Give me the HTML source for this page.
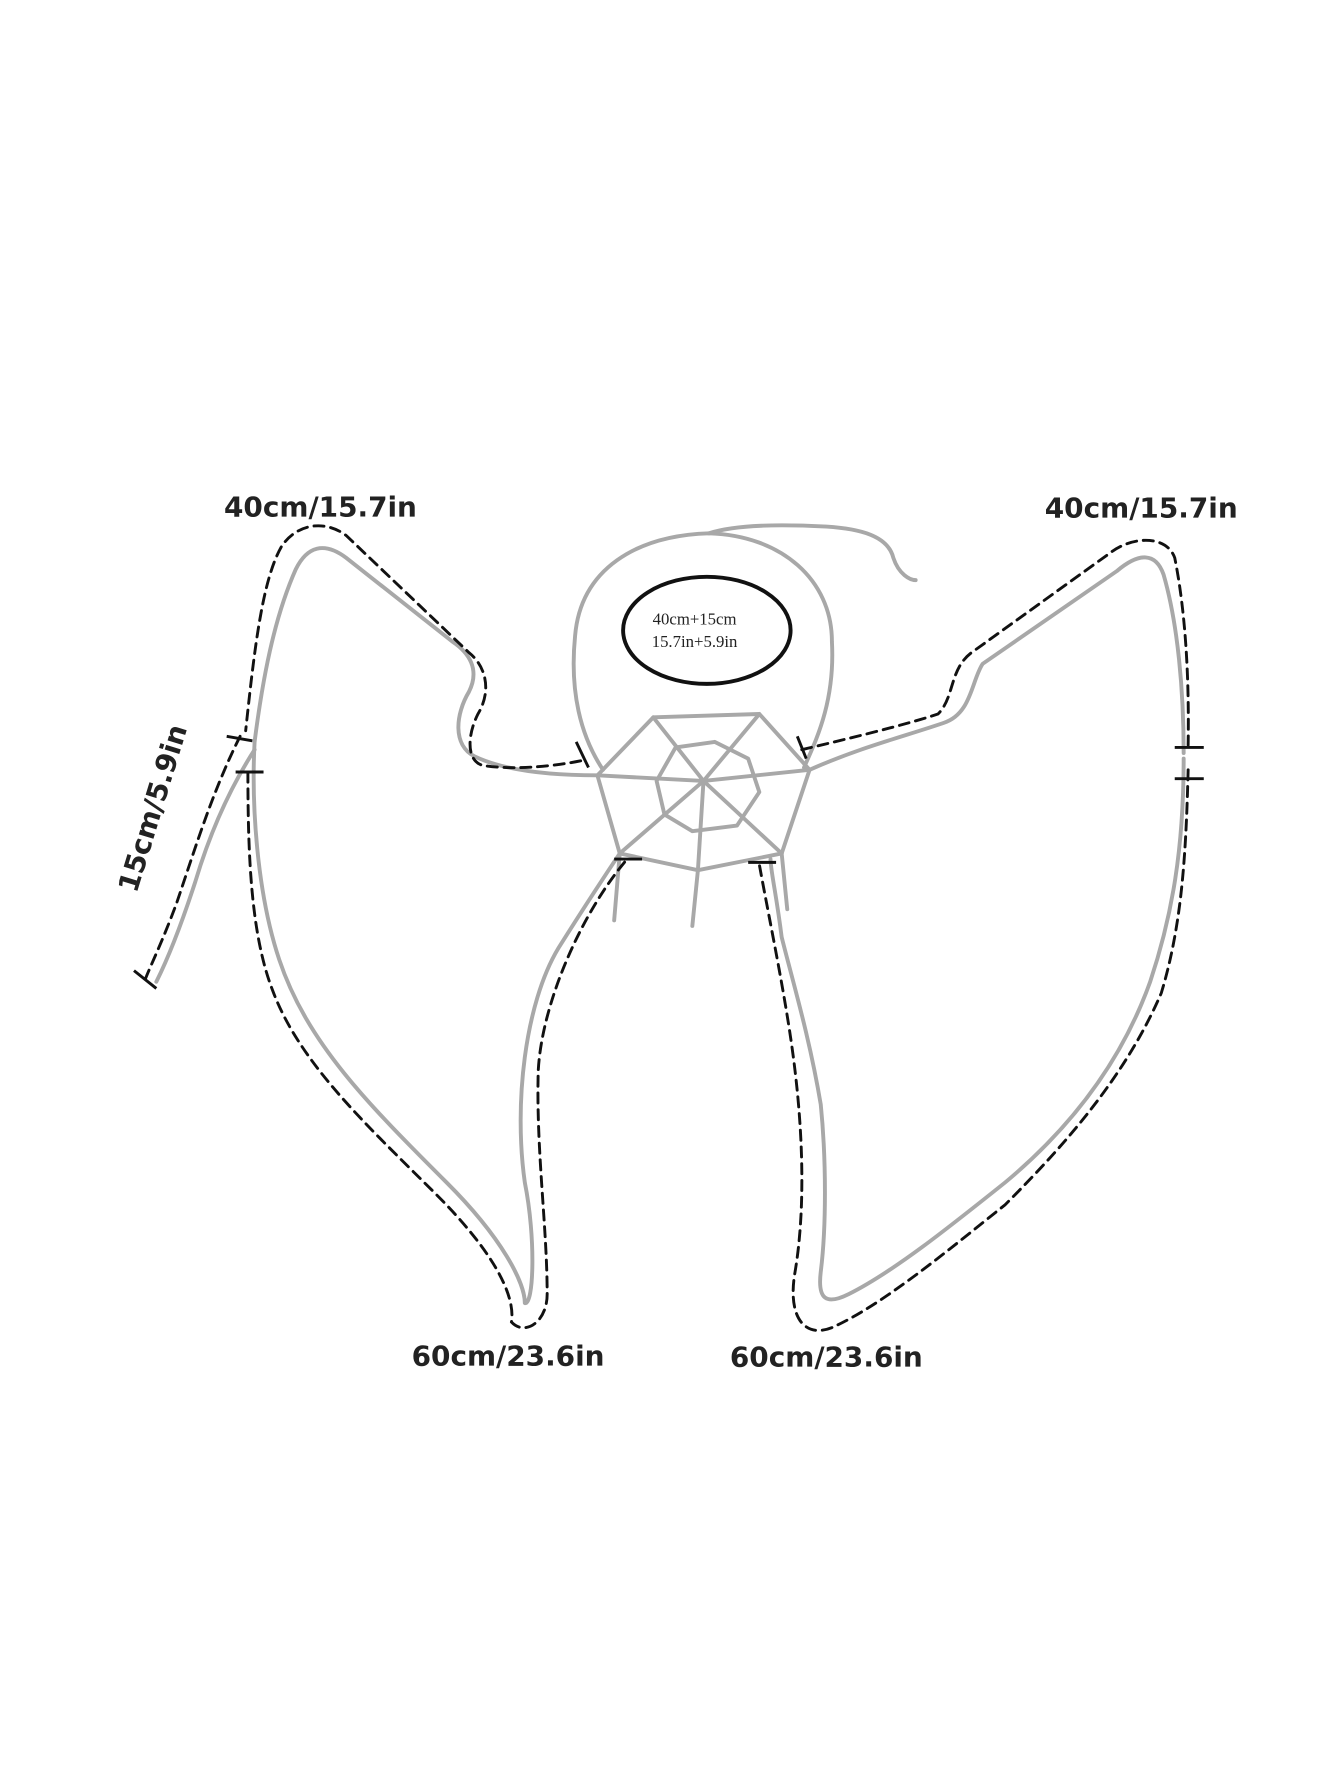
<!DOCTYPE html>
<html><head><meta charset="utf-8"><style>
html,body{margin:0;padding:0;background:#fff;}
svg{display:block;}
</style></head><body>
<svg width="1340" height="1785" viewBox="0 0 1200 1600" preserveAspectRatio="none" xmlns="http://www.w3.org/2000/svg">
<g fill="none" stroke="#a8a8a8" stroke-width="3.5" stroke-linecap="round" stroke-linejoin="round">
  <path d="M540 690 C520 660 510 620 515 570 C520 510 570 480 635 478 C700 480 745 520 745 575 C748 630 730 665 720 688"/>
  <path d="M635 478 C660 470 700 470 740 472 C770 474 795 480 800 500 C805 515 815 520 820 520"/>
  <path d="M535 695 L585 643 L680 640 L725 690 L700 765 L625 780 L555 765 Z"/>
  <path d="M588 700 L605 670 L640 665 L670 680 L680 710 L660 740 L620 745 L595 730 Z"/>
  <path d="M630 700 L535 695 M630 700 L585 643 M630 700 L680 640 M630 700 L725 690 M630 700 L700 765 M630 700 L625 780 M630 700 L555 765"/>
  <path d="M625 780 L620 830 M700 765 L705 815 M555 765 L550 825"/>
  <path d="M535 695 C490 695 450 690 425 678 C405 668 408 640 420 620 C430 600 420 585 405 575 L310 500 C290 485 275 490 265 510 C245 555 235 610 228 665"/>
  <path d="M228 665 C225 720 230 800 250 860 C275 935 330 990 400 1060 C450 1110 470 1150 470 1168 C478 1170 480 1110 470 1060 C460 990 470 900 500 850 C525 810 545 780 555 765"/>
  <path d="M228 672 C210 700 190 740 175 790 C162 830 150 860 140 880"/>
  <path d="M725 690 C770 670 810 660 845 648 C870 640 870 610 880 595 L1000 512 C1020 495 1035 495 1042 515 C1055 560 1060 620 1060 675"/>
  <path d="M1060 680 C1060 760 1050 820 1030 880 C1005 950 960 1010 900 1060 C850 1100 800 1140 760 1160 C740 1170 732 1165 735 1140 C740 1100 740 1040 735 990 C725 930 710 880 700 840 C695 800 690 780 690 770"/>
</g>
<g fill="none" stroke="#111" stroke-width="2.6" stroke-dasharray="9,6" stroke-linecap="round">
  <path d="M520 682 C490 688 455 690 432 686 C418 682 418 660 428 640 C440 620 436 598 420 585 L310 480 C290 465 265 470 252 490 C235 520 228 580 220 655"/>
  <path d="M222 692 C222 770 225 840 245 890 C270 955 330 1010 390 1070 C440 1120 462 1160 458 1185 C470 1198 490 1185 490 1160 C490 1100 480 1030 482 960 C485 900 520 820 560 772"/>
  <path d="M215 660 C190 710 175 760 158 810 C145 845 135 865 130 878"/>
  <path d="M718 672 C760 662 810 650 840 640 C855 625 850 600 870 585 L995 495 C1015 480 1045 480 1052 500 C1062 550 1065 610 1064 668"/>
  <path d="M1064 690 C1062 770 1058 830 1040 890 C1010 960 960 1020 900 1080 C850 1120 790 1170 745 1190 C720 1200 705 1180 712 1140 C722 1080 718 1010 712 960 C705 900 690 830 680 775"/>
</g>
<g stroke="#111" stroke-width="2.6">
  <line x1="203" y1="660" x2="226" y2="664"/>
  <line x1="211" y1="692" x2="236" y2="692"/>
  <line x1="120" y1="870" x2="140" y2="886"/>
  <line x1="1052" y1="670" x2="1078" y2="670"/>
  <line x1="1052" y1="698" x2="1078" y2="698"/>
  <line x1="516" y1="665" x2="527" y2="688"/>
  <line x1="714" y1="660" x2="722" y2="680"/>
  <line x1="550" y1="770" x2="575" y2="770"/>
  <line x1="670" y1="773" x2="695" y2="773"/>
</g>
<ellipse cx="633" cy="565" rx="75" ry="48" fill="none" stroke="#111" stroke-width="3.5"/>
<text x="622" y="560" font-size="15" text-anchor="middle" style="font-family:'Liberation Serif',serif;fill:#222">40cm+15cm</text>
<text x="622" y="580" font-size="15" text-anchor="middle" style="font-family:'Liberation Serif',serif;fill:#222">15.7in+5.9in</text>
<g style="font-family:'DejaVu Sans','Liberation Sans',sans-serif;fill:#222;font-weight:600" font-size="25">
<text x="287" y="463" text-anchor="middle">40cm/15.7in</text>
<text x="1022" y="464" text-anchor="middle">40cm/15.7in</text>
<text x="455" y="1224" text-anchor="middle">60cm/23.6in</text>
<text x="740" y="1225" text-anchor="middle">60cm/23.6in</text>
<text x="0" y="0" text-anchor="middle" transform="translate(145,727) rotate(-73)">15cm/5.9in</text>
</g>
</svg>
</body></html>
